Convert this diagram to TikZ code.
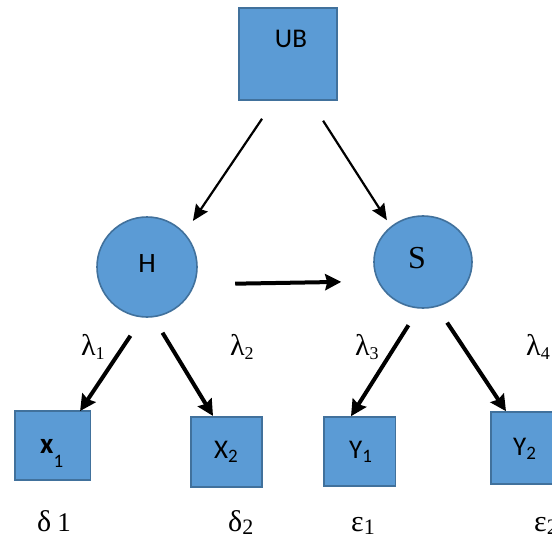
\documentclass[tikz,border=0pt]{standalone}
\usepackage{fontspec}
\setmainfont{Liberation Serif}
\newfontfamily\calfont{Carlito}
\usetikzlibrary{arrows.meta,shapes.geometric}
\definecolor{boxfill}{HTML}{5B9BD5}
\definecolor{boxline}{HTML}{41719C}
\newcommand\sbig{\fontsize{27}{27}\selectfont\calfont}
\newcommand\ssub{\fontsize{19}{19}\selectfont\calfont}
\newcommand\gbig{\fontsize{30}{30}\selectfont}
\newcommand\slab[2]{{\sbig #1}\raisebox{-4pt}{\ssub #2}}
\newcommand\llab[1]{{\gbig λ}\raisebox{-4pt}{\fontsize{18}{18}\selectfont #1}}
\newcommand\elab[2]{{\gbig #1}\raisebox{-3pt}{\fontsize{22}{22}\selectfont #2}}
\begin{document}
\begin{tikzpicture}[x=1pt,y=-1pt,
  vbox/.style={draw=boxline,fill=boxfill,line width=1.6pt,inner sep=0pt,rectangle},
  vcirc/.style={draw=boxline,fill=boxfill,line width=1.6pt,inner sep=0pt},
  thinarr/.style={line width=2.2pt,-{Stealth[length=16pt,width=14pt,inset=2pt]}},
  thickarr/.style={line width=4pt,-{Stealth[length=16pt,width=16pt,inset=2pt]}},
  lbl/.style={inner sep=0pt}]
\useasboundingbox (0,0) rectangle (552,538);
\clip (0,0) rectangle (552,538);
\fill[white] (0,0) rectangle (552,538);
% nodes
\node[vbox,minimum width=98pt,minimum height=92pt,
  label={[lbl,xshift=3pt,yshift=15pt]center:{\sbig UB}}] (UB) at (288,54) {};
\node[vcirc,circle,minimum size=100pt] (H) at (147,267) {};
\node[lbl] (Ht) at (147,263.5) {\fontsize{28}{28}\selectfont\calfont H};
\node[vcirc,ellipse,minimum width=98pt,minimum height=92pt] (S) at (423,262) {};
\node[lbl] (St) at (417,258.5) {\fontsize{32}{32}\selectfont S};
\node[vbox,minimum width=75.5pt,minimum height=69pt] (X1) at (52.75,445.5) {};
\node[lbl,anchor=base west] (X1t) at (40,453) {{\fontsize{29}{29}\selectfont\calfont\bfseries x}\raisebox{-14pt}{\ssub 1}};
\node[vbox,minimum width=71pt,minimum height=70.5pt] (X2) at (226.5,452) {};
\node[lbl,anchor=base west] (X2t) at (214,458) {\slab{X}{2}};
\node[vbox,minimum width=71.4pt,minimum height=69pt] (Y1) at (359.7,451.5) {};
\node[lbl,anchor=base west] (Y1t) at (349,458) {\slab{Y}{1}};
\node[vbox,minimum width=72pt,minimum height=72pt] (Y2) at (527,448) {};
\node[lbl,anchor=base west] (Y2t) at (513,455) {\slab{Y}{2}};
% labels
\node[lbl,anchor=base west] (l1) at (81,355) {\llab{1}};
\node[lbl,anchor=base west] (l2) at (230,355) {\llab{2}};
\node[lbl,anchor=base west] (l3) at (355,355) {\llab{3}};
\node[lbl,anchor=base west] (l4) at (526,355) {\llab{4}};
\node[lbl,anchor=base west] (d1) at (37,531) {{\gbig δ}\hspace{6pt}{\fontsize{27}{27}\selectfont 1}};
\node[lbl,anchor=base west] (d2) at (228,531) {\elab{δ}{2}};
\node[lbl,anchor=base west] (e1) at (351,531) {\elab{ε}{1}};
\node[lbl,anchor=base west] (e2) at (534,531) {\elab{ε}{2}};
% connectors
\draw[thinarr,shorten <=21.7pt,shorten >=14.6pt] ([xshift=-13.8pt]UB.south) -- (H.42.6);
\draw[thinarr,shorten <=23.7pt,shorten >=7.3pt] ([xshift=22.3pt]UB.south) -- (S.132.7);
\draw[thickarr,shorten <=40.5pt,shorten >=36.4pt] (H.-20.5) -- (S.-157.4);
\draw[thickarr,shorten <=21.8pt,shorten >=-1pt] (H.-95.9) -- ([xshift=27.9pt]X1.north);
\draw[thickarr,shorten <=17.9pt] (H.-83.3) -- ([xshift=-13.5pt]X2.north);
\draw[thickarr,shorten <=19.6pt] (S.-95.9) -- ([xshift=-8.7pt]Y1.north);
\draw[thickarr,shorten <=18.8pt] (S.-73.5) -- ([xshift=-21pt]Y2.north);
\end{tikzpicture}
\end{document}
